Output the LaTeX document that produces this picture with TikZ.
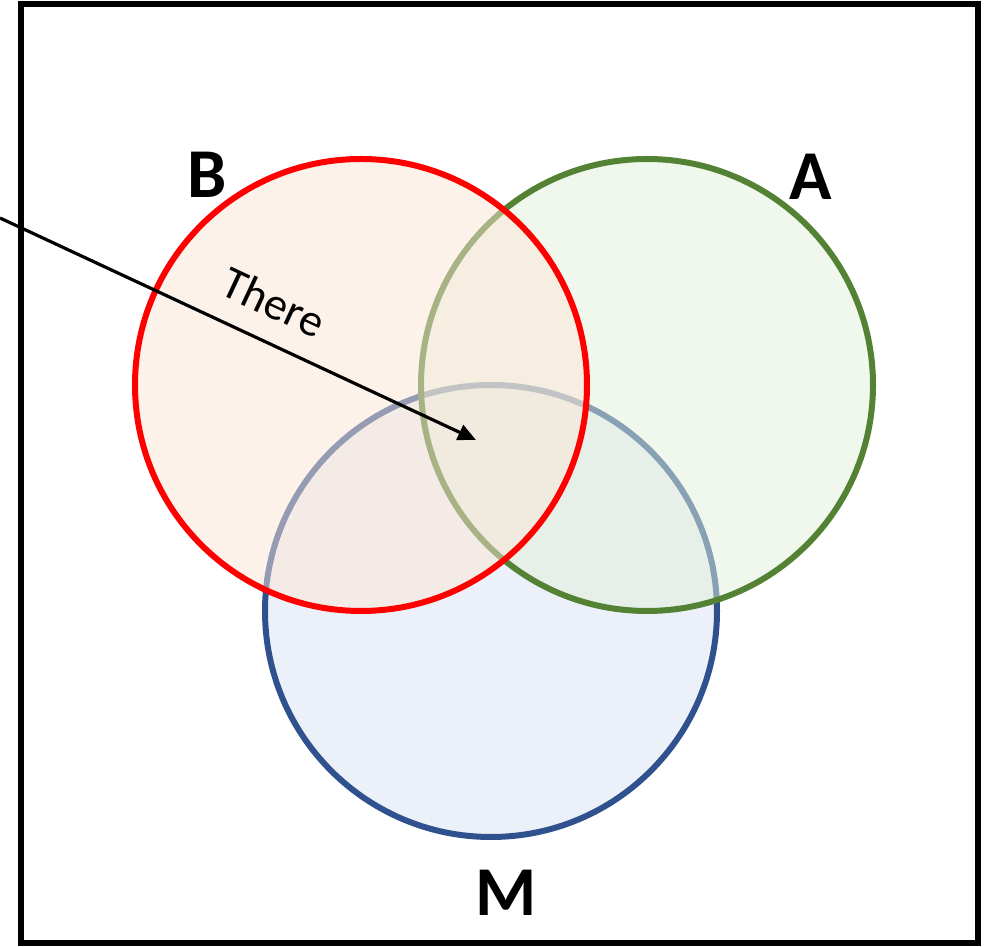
\documentclass[tikz,border=0pt]{standalone}
\usepackage{fontspec}
\setmainfont{Carlito}
\usetikzlibrary{arrows.meta}
\definecolor{redS}{HTML}{FF0000}
\definecolor{greenS}{HTML}{548235}
\definecolor{blueS}{HTML}{2F528F}
\definecolor{redF}{HTML}{FBE5D6}
\definecolor{greenF}{HTML}{E2F0D9}
\definecolor{blueF}{HTML}{DAE3F3}
\tikzset{
  setcirc/.style={circle, minimum size=452pt, inner sep=0pt, line width=6pt, fill opacity=0.5, draw opacity=1},
  setlabel/.style={font=\fontsize{70}{70}\selectfont\bfseries, inner sep=0pt},
  arrowline/.style={line width=3.2pt, -{Triangle[length=18pt,width=16pt]}}
}
\begin{document}
\begin{tikzpicture}[x=1pt,y=1pt]
\useasboundingbox (0,0) rectangle (993,947);
\node[draw=black, line width=6pt, minimum width=957pt, minimum height=939pt, inner sep=0pt] (frame) at (499.5,473.5) {};
\node[setcirc, draw=blueS, fill=blueF] (M) at (491,336) {};
\node[setcirc, draw=greenS, fill=greenF] (A) at (647,562) {};
\node[setcirc, draw=redS, fill=redF] (B) at (361,562) {};
\node[setlabel] (lB) at (207,772) {B};
\node[setlabel] (lA) at (811,770) {A};
\node[setlabel] (lM) at (506,54) {M};
\coordinate (start) at (0,729);
\coordinate (tip) at (476,507);
\draw[arrowline] (start) -- (tip);
\node[rotate=-25, font=\fontsize{46}{46}\selectfont, inner sep=0pt] (there) at (274,645) {There};
\end{tikzpicture}
\end{document}
